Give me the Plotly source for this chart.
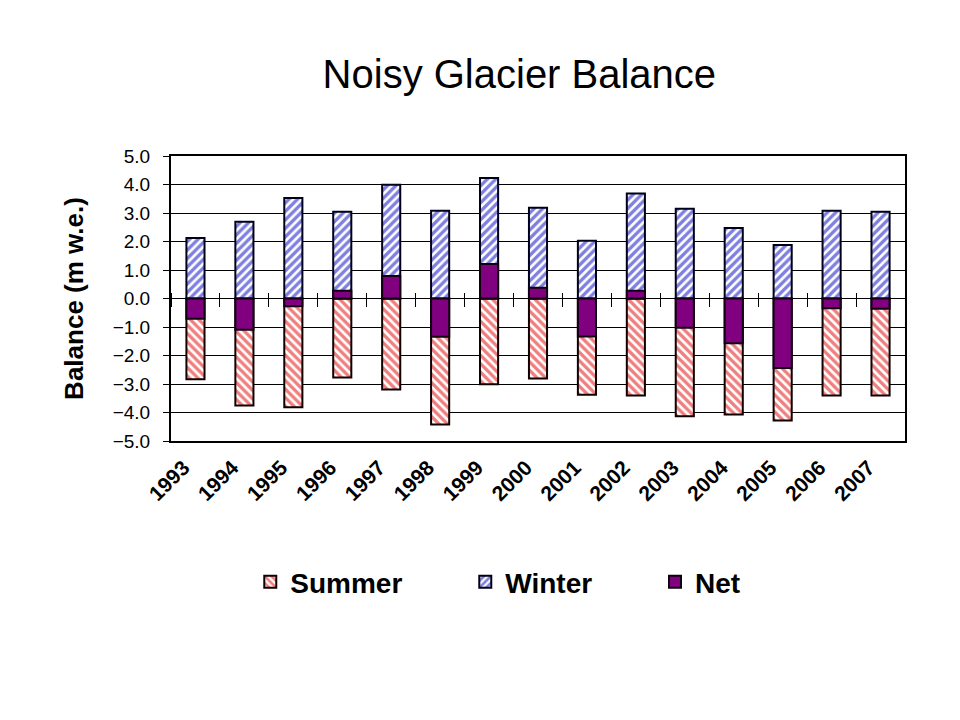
import plotly.graph_objects as go

years = [str(y) for y in range(1993, 2008)]
summer = [-2.83, -3.75, -3.82, -2.77, -3.19, -4.42, -3.01, -2.81, -3.38, -3.40, -4.13, -4.07, -4.28, -3.40, -3.40]
winter = [2.12, 2.69, 3.53, 3.04, 3.99, 3.08, 4.23, 3.18, 2.03, 3.68, 3.15, 2.47, 1.88, 3.08, 3.04]
net = [-0.71, -1.10, -0.27, 0.27, 0.79, -1.34, 1.21, 0.38, -1.33, 0.27, -1.03, -1.57, -2.44, -0.34, -0.36]
ytick_vals = [-5, -4, -3, -2, -1, 0, 1, 2, 3, 4, 5]

FONT = "Liberation Sans, Arial, sans-serif"
BW = 0.37

fig = go.Figure()
fig.add_trace(go.Bar(
    x=years, y=summer, name="<b>Summer</b>", width=BW, legend="legend",
    marker=dict(color="white", line=dict(color="#100000", width=2),
                pattern=dict(shape="\\", fgcolor="#e00000", bgcolor="white", size=6, solidity=0.55)),
))
fig.add_trace(go.Bar(
    x=years, y=winter, name="<b>Winter</b>", width=BW, legend="legend",
    marker=dict(color="white", line=dict(color="#000018", width=2),
                pattern=dict(shape="/", fgcolor="#0000c0", bgcolor="white", size=6, solidity=0.55)),
))
fig.add_trace(go.Bar(
    x=years, y=net, name="<b>Net</b>", width=BW, legend="legend2",
    marker=dict(color="#800080", line=dict(color="#100010", width=2)),
))
# hidden trace to carry the zero-crossing tick axis
fig.add_trace(go.Scatter(x=years, y=[None] * len(years), xaxis="x2", yaxis="y",
                         showlegend=False, hoverinfo="skip", mode="markers"))

H = 720 - 156 - 279
legend_font = dict(size=28, family=FONT, color="black")
fig.update_layout(
    width=960, height=720,
    margin=dict(l=171, r=55, t=156, b=279),
    paper_bgcolor="white", plot_bgcolor="white",
    barmode="overlay",
    font=dict(family=FONT, color="black"),
    title=dict(text="Noisy Glacier Balance", x=0.541, xanchor="center", y=0.897, yanchor="middle",
               font=dict(size=40, family=FONT, color="black")),
    xaxis=dict(type="category", range=[-0.5, 14.5], showgrid=False, ticks="",
               tickangle=-45, tickfont=dict(size=21, family=FONT, color="black"),
               ticklabelshift=-12, ticklabelstandoff=4,
               tickprefix="<b>", ticksuffix="</b>",
               showline=True, linecolor="black", linewidth=2, mirror=True, zeroline=False),
    xaxis2=dict(type="category", overlaying="x", anchor="free", side="bottom",
                position=0.5 + 7 / H, range=[-0.5, 14.5], matches="x",
                showticklabels=False, showgrid=False, showline=False, zeroline=False,
                ticks="outside", tickson="boundaries", ticklen=14, tickwidth=1, tickcolor="black"),
    yaxis=dict(range=[-5, 5], tickvals=ytick_vals, tickformat=".1f",
               ticks="outside", ticklen=6, tickcolor="black", tickwidth=1,
               ticklabelstandoff=9,
               tickfont=dict(size=19, family=FONT, color="black"),
               showgrid=True, gridcolor="black", gridwidth=1,
               showline=True, linecolor="black", linewidth=2, mirror=True, zeroline=False),
    legend=dict(orientation="h", x=0.108, xanchor="left", y=-0.495, yanchor="middle",
                entrywidth=170, entrywidthmode="pixels", traceorder="normal",
                font=legend_font, bgcolor="rgba(0,0,0,0)"),
    legend2=dict(orientation="h", x=(655 - 171) / 734, xanchor="left", y=-0.495, yanchor="middle",
                 font=legend_font, bgcolor="rgba(0,0,0,0)"),
)
fig.update_yaxes(title=dict(text="<b>Balance (m w.e.)</b>", standoff=22,
                            font=dict(size=26, family=FONT, color="black")))

fig.write_html("out.html")
